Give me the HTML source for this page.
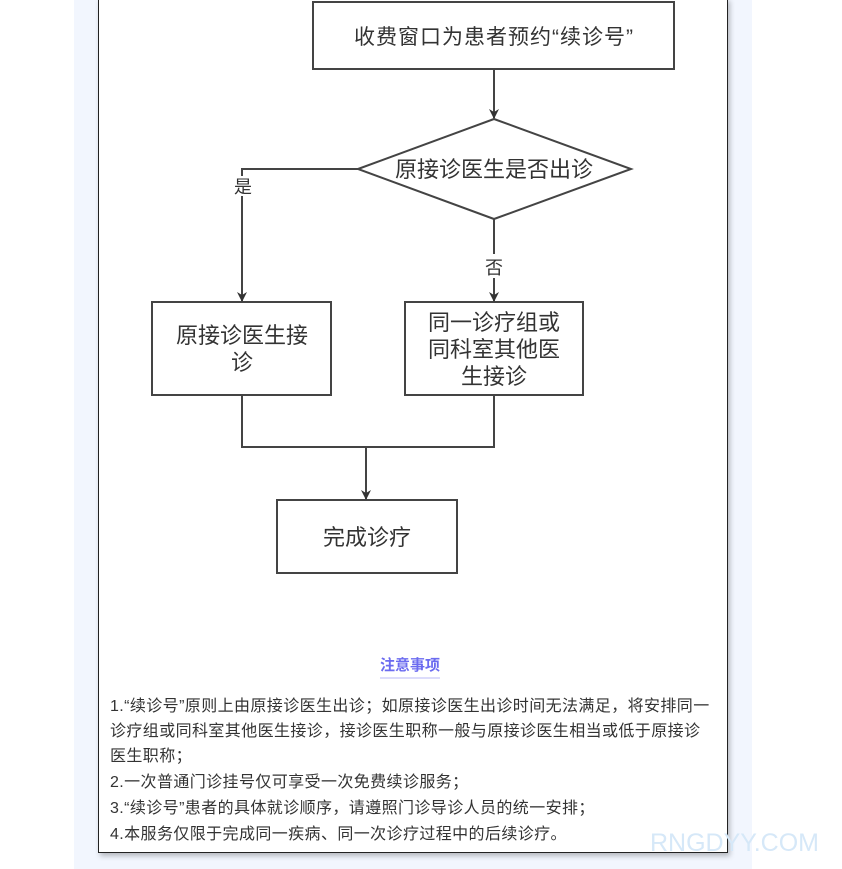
<!DOCTYPE html>
<html><head><meta charset="utf-8"><style>
body{margin:0;width:842px;height:869px;background:#fff;position:relative;overflow:hidden;font-family:"Liberation Sans","Noto Sans CJK SC",sans-serif}
.bg{position:absolute;left:74px;top:0;width:678px;height:869px;background:#f2f6fe}
.card{position:absolute;left:98px;top:-2px;width:628px;height:854px;background:#fff;border:1px solid #222;border-top:none;box-shadow:2px 3px 5px rgba(0,0,0,.25)}
.t{position:absolute;font-size:16px;letter-spacing:0.4px;color:#333;left:110px;white-space:nowrap}
.h{position:absolute;left:380px;top:654px;font-size:15px;font-weight:bold;color:#6b6bf0;border-bottom:2px solid #dcdcfb;padding-bottom:2px}
.wm{position:absolute;left:650px;top:829px;font-size:25px;color:#d6e8f8}
</style></head><body>
<div class="bg"></div>
<div class="card"></div>
<svg width="842" height="869" style="position:absolute;left:0;top:0" font-family="Liberation Sans,Noto Sans CJK SC,sans-serif">
<defs><marker id="a" markerWidth="10" markerHeight="10" refX="9" refY="5" orient="auto" markerUnits="userSpaceOnUse"><path d="M0,0 L10,5 L0,10 L3,5z" fill="#333"/></marker></defs>
<g stroke="#444" stroke-width="2" fill="none">
<rect x="313" y="2" width="361" height="67"/>
<polygon points="358,169 494,119 631,169 494,219"/>
<rect x="152" y="302" width="179" height="93"/>
<rect x="405" y="302" width="178" height="93"/>
<rect x="277" y="500" width="180" height="73"/>
<line x1="494" y1="69" x2="494" y2="118" marker-end="url(#a)"/>
<polyline points="358,169 242,169 242,301" marker-end="url(#a)"/>
<line x1="494" y1="219" x2="494" y2="301" marker-end="url(#a)"/>
<polyline points="242,395 242,447 494,447 494,395"/>
<line x1="366" y1="447" x2="366" y2="499" marker-end="url(#a)"/>
</g>
<rect x="232" y="176" width="22" height="20" fill="#fff"/>
<rect x="483" y="254" width="22" height="24" fill="#fff"/>
<g fill="#333" font-size="22" text-anchor="middle">
<text x="494" y="44" font-size="21" letter-spacing="1">收费窗口为患者预约“续诊号”</text>
<text x="494" y="177">原接诊医生是否出诊</text>
<text x="243" y="193" font-size="18">是</text>
<text x="494" y="274" font-size="18">否</text>
<text x="242" y="343">原接诊医生接</text>
<text x="242" y="370">诊</text>
<text x="494" y="330">同一诊疗组或</text>
<text x="494" y="357">同科室其他医</text>
<text x="494" y="384">生接诊</text>
<text x="367" y="545">完成诊疗</text>
</g>
</svg>
<div class="h">注意事项</div>
<div class="t" style="top:692px">1.“续诊号”原则上由原接诊医生出诊；如原接诊医生出诊时间无法满足，将安排同一</div>
<div class="t" style="top:717px">诊疗组或同科室其他医生接诊，接诊医生职称一般与原接诊医生相当或低于原接诊</div>
<div class="t" style="top:742px">医生职称；</div>
<div class="t" style="top:768px">2.一次普通门诊挂号仅可享受一次免费续诊服务；</div>
<div class="t" style="top:794px">3.“续诊号”患者的具体就诊顺序，请遵照门诊导诊人员的统一安排；</div>
<div class="t" style="top:820px">4.本服务仅限于完成同一疾病、同一次诊疗过程中的后续诊疗。</div>
<div class="wm">RNGDYY.COM</div>
</body></html>
